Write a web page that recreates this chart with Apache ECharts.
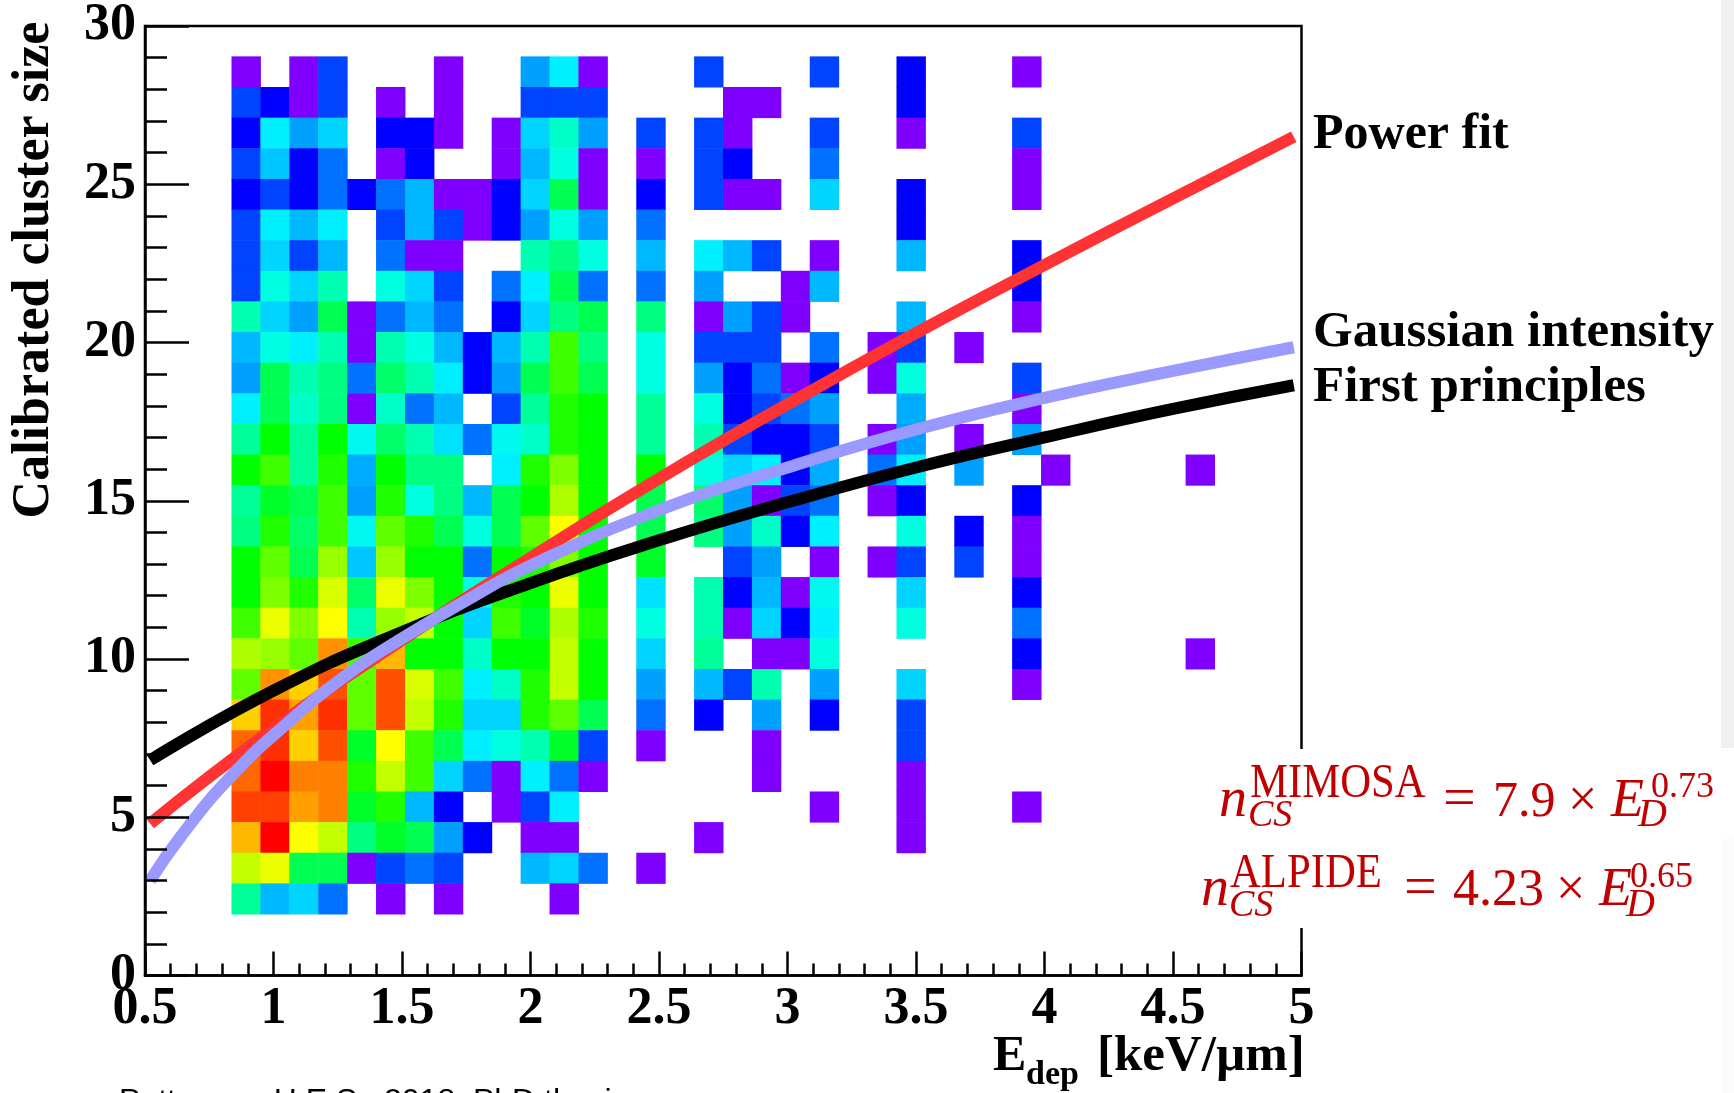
<!DOCTYPE html>
<html>
<head>
<meta charset="utf-8">
<title>Calibrated cluster size vs deposited energy</title>
<style>html,body{margin:0;padding:0;background:#fff}#chart{width:1734px;height:1093px}</style>
<script src="https://cdn.jsdelivr.net/npm/echarts@6/dist/echarts.min.js"></script>
</head>
<body>
<div id="chart"></div>
<script>
const _ = null;
// colour level (1 = one entry, 24 = most populated)
const levelColors = ['#7f00ff','#0000ff','#0044ff','#0072ff','#00a0ff','#00b8ff','#00d4ff','#00f0ff','#00ffe0','#00ffb0','#00ff80','#00ff50','#00ff00','#40ff00','#80ff00','#b0ff00','#d8ff00','#ffff00','#ffd000','#ffa000','#ff8000','#ff5000','#ff3000','#ff0000'];
const xBinCount = 40, yBinCount = 31;
const xMin = 0.5, xMax = 5, yMin = 0, yMax = 30;
const topBin = 29;
const denseFirstBin = 3, sparseFirstBin = 17;
// x bins 3..15, rows from y bin 29 down to y bin 2
const denseLevels = [
[1,_,1,3,_,_,_,1,_,_,5,8,1],
[3,2,1,3,_,1,_,1,_,_,3,3,3],
[2,8,5,7,_,2,2,1,_,1,7,9.5,5],
[3,6.5,2,4,_,1,2,_,_,1,6,9,1],
[2,3,2,4,2,4,6,1,1,2,7,12,1],
[3,8,6,8,_,3,6,3,1,2,5,9,5],
[3,7,3,6,_,4,1,1,_,_,10,11,9],
[3,9,7,10,_,9,7,3,_,4,8,12,4],
[10,7,5,12,1,4,6,4,_,2,7,11,12],
[6,9,8,10,1,10,9,6,2,6,10,14,11],
[5,12,10,11,4,11.5,10,8,2,5,12,14,12],
[8,12,9.5,11,1,9.5,4,6,_,3,10.5,13.5,13],
[10.5,13,10.5,13,8.5,11.5,10,7.5,4,8.5,9.5,13.5,13],
[13,14,10.5,13.5,5.5,13,11,11,_,8,13.5,15,13],
[10.5,12.5,12,14,5,13.5,9,11,6,12,13,16,13],
[11,13.5,11.5,14,8.5,14.5,13.5,12,9,12,14.5,18,13],
[13,14.5,12,15.5,6.5,15.5,13,13,4,13,13.5,15,13],
[13,15,13.5,17,11.5,17.5,15,13,9,13.5,13,17.5,13],
[14,17.5,15,18,10,15.5,16.5,13,7,14,12.5,16,13.5],
[16,15.5,14.5,20.5,14,19.5,13,13,9.5,13,13,16.5,13],
[14.5,20.5,19,22,14.5,22,17,14,8,9.5,13.5,16.5,13],
[19,23,20,23,14.5,22,16.5,13.5,7,7,13.5,14.5,12],
[21.5,23,19,22,12.5,18,14,12,8,9,10,12.5,3],
[21.5,24,21,21,13.5,16.5,14,7,4,1,8,4,1],
[22.5,22.5,20,21,12.5,13.5,6,2,_,1,3,8,_],
[19.5,24,18,16.5,11,12.5,12,5,2,_,1,1,_],
[16.5,17.5,12,12,1,3,4,3,_,_,6,7,4],
[10.5,6,7,4,_,1,_,1,_,_,_,1,_]
];
// x bins 17..31, same rows
const sparseLevels = [
[_,_,3,_,_,_,3,_,_,2,_,_,_,1,_],
[_,_,_,1,1,_,_,_,_,2,_,_,_,_,_],
[3,_,3,1,_,_,3,_,_,1,_,_,_,3,_],
[1,_,3,2,_,_,4,_,_,_,_,_,_,1,_],
[2,_,3,1,1,_,7,_,_,2,_,_,_,1,_],
[4,_,_,_,_,_,_,_,_,2,_,_,_,_,_],
[6,_,8,6,3,_,1,_,_,6,_,_,_,2,_],
[4,_,5,_,_,1,6,_,_,_,_,_,_,2,_],
[11,_,1,5,3,1,_,_,_,6,_,_,_,1,_],
[9,_,3,3,3,_,4,_,1,3,_,1,_,_,_],
[9,_,5,2,4,1,2,_,1,9,_,_,_,3,_],
[10.5,_,9,2,3,4,5,_,_,5.5,_,_,_,1,_],
[10.5,_,10,3,2,2,3,_,1,5,_,1,_,5,_],
[13,_,9,7,8,2,5.5,_,4,8,_,5,_,_,1],
[12,_,11.5,5,1,3,4,_,1,2,_,_,_,2,_],
[12,_,11,5,9.5,2,8,_,_,9,_,2,_,1,_],
[12.5,_,_,3,5,_,1,_,1,3,_,3,_,1,_],
[7.5,_,10,2,6,1,8.5,_,_,7,_,_,_,2,_],
[9,_,10,1,7,2,8,_,_,9,_,_,_,4,_],
[7,_,10.5,_,1,1,9,_,_,_,_,_,_,2,_],
[5,_,6,3,10,_,5,_,_,7,_,_,_,1,_],
[4,_,2,_,5,_,2,_,_,3,_,_,_,_,_],
[1,_,_,_,1,_,_,_,_,3,_,_,_,_,_],
[_,_,_,_,1,_,_,_,_,1,_,_,_,_,_],
[_,_,_,_,_,_,1,_,_,1,_,_,_,1,_],
[_,_,1,_,_,_,_,_,_,1,_,_,_,_,_],
[1,_,_,_,_,_,_,_,_,_,_,_,_,_,_],
[_,_,_,_,_,_,_,_,_,_,_,_,_,_,_]
];
// isolated cells at x bin 36: [xBin, yBin, level]
const isolatedCells = [[36,16,1],[36,10,1]];

const powerFitE = [0.52,1,1.5,2,2.5,3,3.5,4,4.5,4.97];
const powerFitN = [4.8,7.8,10.6,13.2,15.7,18.05,20.3,22.45,24.55,26.5];
const gaussianE = [0.52,0.64,0.83,1.05,1.285,1.5,1.75,2,2.5,3,3.5,4,4.5,4.97];
const gaussianN = [3,4.4,6.25,7.95,9.5,10.65,11.85,12.95,14.7,16.05,17.25,18.25,19.1,19.85];
const firstPrinciplesE = [0.52,1,1.5,2,2.5,3,3.5,4,4.5,4.97];
const firstPrinciplesN = [6.8,9,10.85,12.4,13.75,14.95,16.05,17,17.9,18.65];

const serif = '"Liberation Serif","Times New Roman",serif';
const zipXY = (xs, ys) => xs.map((x, i) => [x, ys[i]]);

const cells = [];
denseLevels.forEach((row, r) => row.forEach((v, c) => { if (v !== null) cells.push([denseFirstBin + c, topBin - r, v]); }));
sparseLevels.forEach((row, r) => row.forEach((v, c) => { if (v !== null) cells.push([sparseFirstBin + c, topBin - r, v]); }));
isolatedCells.forEach(c => cells.push(c));

const binLabels = (n, lo, hi) => Array.from({length: n}, (_x, i) => (lo + (hi - lo) * (i + 0.5) / n).toFixed(3));

// baseline-positioned text helper
function txt(text, x, base, size, opts) {
  opts = opts || {};
  return {
    type: 'text', z: 120, silent: true,
    x: x, y: base - 0.28 * size, scaleX: opts.sx || 1, rotation: opts.rot || 0,
    style: {
      text: text, x: 0, y: 0, verticalAlign: 'middle', align: opts.align || 'left',
      font: (opts.style || 'bold') + ' ' + size + 'px ' + serif,
      fill: opts.fill || '#000'
    }
  };
}
const red = '#c00000';
const formulaOpts = {style: 'normal', fill: red};
const formulaItalic = {style: 'italic', fill: red};
const graphicItems = [
  {type:'rect', z:1, silent:true, shape:{x:1721,y:0,width:13,height:748}, style:{fill:'#f0f0f0'}},
  {type:'rect', z:1, silent:true, shape:{x:1721,y:839,width:13,height:254}, style:{fill:'#fbfbfb'}},
  {type:'rect', z:100, silent:true, shape:{x:1290,y:749,width:24,height:179}, style:{fill:'#fff'}},
  {type:'text', z:2, silent:true, x:1736, y:958, rotation:-Math.PI/2, style:{text:'A S', x:0, y:0, align:'center', verticalAlign:'bottom', font:'15px '+serif, fill:'#999'}},
  {type:'text', z:2, silent:true, x:1736, y:1012, rotation:-Math.PI/2, style:{text:'S Y', x:0, y:0, align:'center', verticalAlign:'bottom', font:'15px '+serif, fill:'#999'}},
  // curve labels
  txt('Power fit', 1313, 149, 50),
  txt('Gaussian intensity', 1313, 347, 51),
  txt('First principles', 1313, 402, 51),
  // axis titles
  {type:'text', z:120, silent:true, x:35, y:270, rotation:Math.PI/2, style:{text:'Calibrated cluster size', x:0, y:0, align:'center', verticalAlign:'middle', font:'bold 52px '+serif, fill:'#000'}},
  txt('E', 993, 1071, 50),
  txt('dep', 1026, 1085, 34),
  txt('[keV/\u00b5m]', 1097, 1071, 51),
  // footer
  {type:'text', z:120, silent:true, x:119, y:1086, style:{text:'Pettersen, H.E.S., 2018, PhD thesis', x:0, y:0, align:'left', verticalAlign:'top', font:'32px "Liberation Sans",Arial,sans-serif', fill:'#000'}},
  // formula 1
  txt('n', 1219, 817, 56, formulaItalic),
  txt('MIMOSA', 1250, 798, 48, {style:'normal', fill:red, sx:0.89}),
  txt('CS', 1248, 827, 38, formulaItalic),
  txt('=', 1443, 817, 58, formulaOpts),
  txt('7.9', 1493, 817, 50, formulaOpts),
  txt('\u00d7', 1568, 817, 52, formulaOpts),
  txt('E', 1611, 817, 54, formulaItalic),
  txt('D', 1638, 827, 40, formulaItalic),
  txt('0.73', 1651, 798, 36, formulaOpts),
  // formula 2
  txt('n', 1201, 906, 56, formulaItalic),
  txt('ALPIDE', 1230, 888, 48, {style:'normal', fill:red, sx:0.89}),
  txt('CS', 1229, 917, 38, formulaItalic),
  txt('=', 1404, 906, 58, formulaOpts),
  txt('4.23', 1453, 906, 52, formulaOpts),
  txt('\u00d7', 1556, 906, 52, formulaOpts),
  txt('E', 1599, 906, 54, formulaItalic),
  txt('D', 1626, 917, 40, formulaItalic),
  txt('0.65', 1630, 888, 36, formulaOpts)
];

const tickLine = {show: true, inside: true, length: 24, lineStyle: {color:'#000', width:2.5}};
const minorLine = {show: true, length: 12, lineStyle: {color:'#000', width:2.5}};
const axisLine = {show: true, onZero: false, lineStyle: {color:'#000', width:2.5}};
const labelStyle = {color:'#000', fontFamily: serif, fontWeight:'bold', fontSize:52};

const curve = (name, xs, ys, color) => ({
  name, type:'line', xAxisIndex:0, yAxisIndex:0, data: zipXY(xs, ys), smooth:0.5, showSymbol:false, silent:true,
  lineStyle:{color, width:12, cap:'butt'}, z:5, animation:false
});

const chart = echarts.init(document.getElementById('chart'), null, {renderer:'canvas'});
chart.setOption({
  animation:false,
  backgroundColor:'#fff',
  grid:{show:true, left:145, top:25, width:1156.5, height:950.5, borderColor:'#000', borderWidth:2.5, backgroundColor:'transparent', containLabel:false},
  xAxis:[
    {type:'value', min:xMin, max:xMax, interval:0.5, gridIndex:0, position:'bottom', splitLine:{show:false},
     axisLine, axisTick:tickLine, minorTick:Object.assign({splitNumber:5}, minorLine),
     axisLabel:Object.assign({margin:8, showMinLabel:true, showMaxLabel:true, hideOverlap:false}, labelStyle), z:6},
    {type:'category', data:binLabels(xBinCount, xMin, xMax), gridIndex:0, show:false}
  ],
  yAxis:[
    {type:'value', min:yMin, max:yMax, interval:5, gridIndex:0, position:'left', splitLine:{show:false},
     axisLine, axisTick:Object.assign({}, tickLine, {length:44}), minorTick:Object.assign({splitNumber:5}, minorLine, {length:22}),
     axisLabel:Object.assign({margin:9, padding:[5,0,0,0], showMinLabel:true, showMaxLabel:true, hideOverlap:false}, labelStyle), z:6},
    {type:'category', data:binLabels(yBinCount, yMin, yMax), gridIndex:0, show:false}
  ],
  visualMap:{type:'continuous', show:false, min:1, max:24, seriesIndex:0, inRange:{color:levelColors}},
  series:[
    {name:'Cluster size distribution', type:'heatmap', xAxisIndex:1, yAxisIndex:1, data:cells, silent:true, z:2, progressive:0, animation:false, emphasis:{disabled:true}},
    curve('Power fit', powerFitE, powerFitN, '#ff3333'),
    curve('First principles', firstPrinciplesE, firstPrinciplesN, '#000000'),
    curve('Gaussian intensity', gaussianE, gaussianN, '#9999ff')
  ],
  graphic:{elements:graphicItems}
});
</script>
</body>
</html>
